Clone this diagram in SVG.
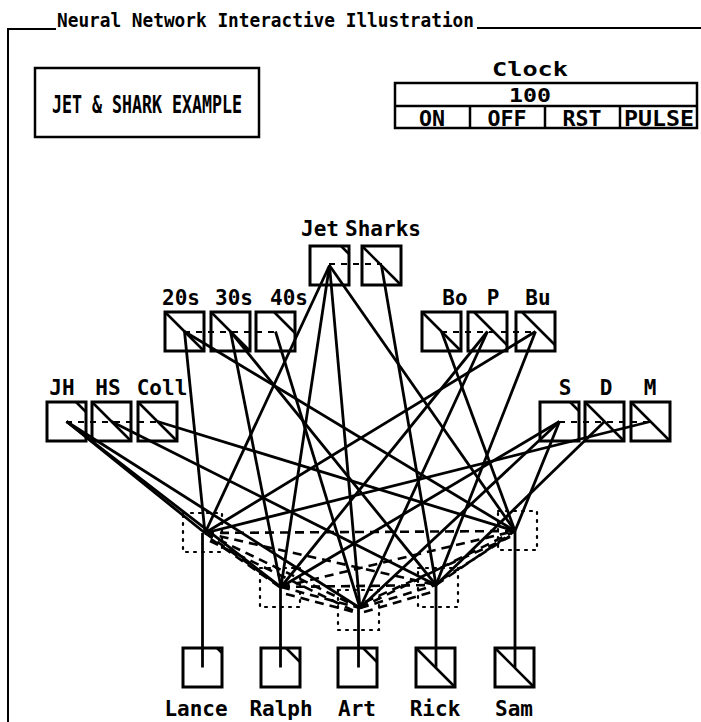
<svg xmlns="http://www.w3.org/2000/svg" width="701" height="722" viewBox="0 0 701 722">
<style>
.bg{fill:#fff}
.frame{stroke:#000;stroke-width:2;fill:none}
.box{fill:#fff;stroke:#000;stroke-width:3}
.act{stroke:#000;stroke-width:2.5;fill:none}
.pool{stroke:#000;stroke-width:2;stroke-dasharray:6 6;fill:none}
.hid{fill:none;stroke:#000;stroke-width:2.2;stroke-dasharray:2 6;stroke-linecap:round}
.exc{stroke:#000;stroke-width:2.8;fill:none}
.inh{stroke:#000;stroke-width:2.6;stroke-dasharray:9 6;fill:none}
.t{font-family:"DejaVu Sans Mono","Liberation Mono",monospace;font-weight:bold;fill:#000}
.lbl{font-family:"DejaVu Sans Mono","Liberation Mono",monospace;font-weight:bold;font-size:21px;fill:#000;text-anchor:middle}
.btn{stroke:#000;stroke-width:2.5;fill:none}
</style>
<rect class="bg" x="0" y="0" width="701" height="722"/>

<g id="frame">
<polyline class="frame" points="56,29 8,29 8,722"/>
<line class="frame" x1="477" y1="28" x2="701" y2="28"/>
<text class="t" x="57" y="27" font-size="19" textLength="417" lengthAdjust="spacingAndGlyphs">Neural Network Interactive Illustration</text>
</g>

<g id="title-box">
<rect x="35" y="68" width="224" height="69" fill="#fff" stroke="#000" stroke-width="2.5"/>
<text class="t" x="147" y="113" font-size="24" text-anchor="middle" textLength="190" lengthAdjust="spacingAndGlyphs">JET &amp; SHARK EXAMPLE</text>
</g>

<g id="clock">
<text class="t" x="530" y="76" font-size="19" text-anchor="middle" textLength="76" lengthAdjust="spacingAndGlyphs">Clock</text>
<rect class="btn" x="395" y="83" width="302" height="45"/>
<line class="btn" x1="395" y1="106" x2="697" y2="106"/>
<line class="btn" x1="470" y1="106" x2="470" y2="128"/>
<line class="btn" x1="545" y1="106" x2="545" y2="128"/>
<line class="btn" x1="620" y1="106" x2="620" y2="128"/>
<text class="t" x="530" y="102" font-size="19" text-anchor="middle" textLength="42" lengthAdjust="spacingAndGlyphs">100</text>
<text class="t" x="432" y="126" font-size="22" text-anchor="middle" textLength="26" lengthAdjust="spacingAndGlyphs">ON</text>
<text class="t" x="507" y="126" font-size="22" text-anchor="middle" textLength="39" lengthAdjust="spacingAndGlyphs">OFF</text>
<text class="t" x="582" y="126" font-size="22" text-anchor="middle" textLength="39" lengthAdjust="spacingAndGlyphs">RST</text>
<text class="t" x="659" y="126" font-size="22" text-anchor="middle" textLength="70" lengthAdjust="spacingAndGlyphs">PULSE</text>
</g>

<g id="node-jet"><rect class="box" x="310" y="246" width="39" height="39"/><line class="act" x1="341" y1="246" x2="349" y2="254"/><text class="lbl" x="320" y="236">Jet</text></g>
<g id="node-sharks"><rect class="box" x="362" y="246" width="39" height="39"/><line class="act" x1="362" y1="246" x2="401" y2="285"/><text class="lbl" x="383" y="236">Sharks</text></g>

<g id="node-20s"><rect class="box" x="165" y="312" width="39" height="39"/><line class="act" x1="165" y1="312" x2="204" y2="351"/><text class="lbl" x="181" y="305">20s</text></g>
<g id="node-30s"><rect class="box" x="211" y="312" width="39" height="39"/><line class="act" x1="211" y1="312" x2="250" y2="351"/><text class="lbl" x="234" y="305">30s</text></g>
<g id="node-40s"><rect class="box" x="256" y="312" width="39" height="39"/><line class="act" x1="274" y1="312" x2="295" y2="333"/><text class="lbl" x="289" y="305">40s</text></g>

<g id="node-bo"><rect class="box" x="422" y="312" width="39" height="39"/><line class="act" x1="422" y1="312" x2="461" y2="351"/><text class="lbl" x="455" y="305">Bo</text></g>
<g id="node-p"><rect class="box" x="468" y="312" width="39" height="39"/><line class="act" x1="474" y1="312" x2="507" y2="345"/><text class="lbl" x="493" y="305">P</text></g>
<g id="node-bu"><rect class="box" x="516" y="312" width="39" height="39"/><line class="act" x1="522" y1="312" x2="555" y2="345"/><text class="lbl" x="538" y="305">Bu</text></g>

<g id="node-jh"><rect class="box" x="47" y="402" width="39" height="39"/><line class="act" x1="76" y1="402" x2="86" y2="412"/><text class="lbl" x="62" y="395">JH</text></g>
<g id="node-hs"><rect class="box" x="92" y="402" width="39" height="39"/><line class="act" x1="92" y1="402" x2="131" y2="441"/><text class="lbl" x="108" y="395">HS</text></g>
<g id="node-coll"><rect class="box" x="138" y="402" width="39" height="39"/><line class="act" x1="138" y1="402" x2="177" y2="441"/><text class="lbl" x="162" y="395">Coll</text></g>

<g id="node-s"><rect class="box" x="540" y="402" width="39" height="39"/><line class="act" x1="570" y1="402" x2="579" y2="411"/><text class="lbl" x="565" y="395">S</text></g>
<g id="node-d"><rect class="box" x="585" y="402" width="39" height="39"/><line class="act" x1="585" y1="402" x2="624" y2="441"/><text class="lbl" x="606" y="395">D</text></g>
<g id="node-m"><rect class="box" x="631" y="402" width="39" height="39"/><line class="act" x1="631" y1="402" x2="670" y2="441"/><text class="lbl" x="650" y="395">M</text></g>

<g id="node-lance"><rect class="box" x="183" y="648" width="39" height="39"/><line class="act" x1="217" y1="648" x2="222" y2="653"/><text class="lbl" x="196" y="716">Lance</text></g>
<g id="node-ralph"><rect class="box" x="261" y="648" width="39" height="39"/><line class="act" x1="286" y1="648" x2="300" y2="662"/><text class="lbl" x="281" y="716">Ralph</text></g>
<g id="node-art"><rect class="box" x="338" y="648" width="39" height="39"/><line class="act" x1="363" y1="648" x2="377" y2="662"/><text class="lbl" x="357" y="716">Art</text></g>
<g id="node-rick"><rect class="box" x="416" y="648" width="39" height="39"/><line class="act" x1="416" y1="648" x2="455" y2="687"/><text class="lbl" x="435" y="716">Rick</text></g>
<g id="node-sam"><rect class="box" x="495" y="648" width="39" height="39"/><line class="act" x1="495" y1="648" x2="534" y2="687"/><text class="lbl" x="514" y="716">Sam</text></g>

<g id="hidden-lance"><rect class="hid" x="183" y="513" width="39" height="39"/></g>
<g id="hidden-ralph"><rect class="hid" x="260" y="568" width="40" height="39"/></g>
<g id="hidden-art"><rect class="hid" x="338" y="590" width="41" height="40"/></g>
<g id="hidden-rick"><rect class="hid" x="418" y="568" width="40" height="39"/></g>
<g id="hidden-sam"><rect class="hid" x="498" y="511" width="39" height="39"/></g>

<g id="connectors">
<line class="pool" x1="329" y1="264" x2="382" y2="264"/>
<line class="pool" x1="184" y1="332" x2="276" y2="332"/>
<line class="pool" x1="441" y1="332" x2="536" y2="332"/>
<line class="pool" x1="66" y1="422" x2="158" y2="422"/>
<line class="pool" x1="559" y1="422" x2="651" y2="422"/>

<line class="inh" x1="205" y1="533" x2="515" y2="531"/>
<line class="inh" x1="205" y1="533" x2="281" y2="587"/>
<line class="inh" x1="211" y1="539" x2="284" y2="590"/>
<line class="inh" x1="205" y1="533" x2="360" y2="608"/>
<line class="inh" x1="210" y1="541" x2="356" y2="612"/>
<line class="inh" x1="205" y1="533" x2="436" y2="585"/>
<line class="inh" x1="281" y1="587" x2="360" y2="608"/>
<line class="inh" x1="286" y1="594" x2="354" y2="612"/>
<line class="inh" x1="281" y1="587" x2="436" y2="585"/>
<line class="inh" x1="281" y1="587" x2="515" y2="531"/>
<line class="inh" x1="360" y1="608" x2="436" y2="585"/>
<line class="inh" x1="364" y1="612" x2="432" y2="592"/>
<line class="inh" x1="360" y1="608" x2="515" y2="531"/>
<line class="inh" x1="365" y1="602" x2="510" y2="537"/>
<line class="inh" x1="436" y1="585" x2="515" y2="531"/>
<line class="inh" x1="441" y1="580" x2="510" y2="536"/>

<line class="exc" x1="205" y1="533" x2="329.5" y2="265.5"/>
<line class="exc" x1="205" y1="533" x2="184.5" y2="331.5"/>
<line class="exc" x1="205" y1="533" x2="66.5" y2="421.5"/>
<line class="exc" x1="205" y1="533" x2="650.5" y2="421.5"/>
<line class="exc" x1="205" y1="533" x2="535.5" y2="331.5"/>
<line class="exc" x1="202.5" y1="533" x2="202.5" y2="667.5"/>

<line class="exc" x1="281" y1="587" x2="329.5" y2="265.5"/>
<line class="exc" x1="281" y1="587" x2="230.5" y2="331.5"/>
<line class="exc" x1="281" y1="587" x2="66.5" y2="421.5"/>
<line class="exc" x1="281" y1="587" x2="559.5" y2="421.5"/>
<line class="exc" x1="281" y1="587" x2="487.5" y2="331.5"/>
<line class="exc" x1="280.5" y1="587" x2="280.5" y2="667.5"/>

<line class="exc" x1="360" y1="608" x2="329.5" y2="265.5"/>
<line class="exc" x1="360" y1="608" x2="275.5" y2="331.5"/>
<line class="exc" x1="360" y1="608" x2="66.5" y2="421.5"/>
<line class="exc" x1="360" y1="608" x2="559.5" y2="421.5"/>
<line class="exc" x1="360" y1="608" x2="487.5" y2="331.5"/>
<line class="exc" x1="358.5" y1="608" x2="358.5" y2="667.5"/>

<line class="exc" x1="436" y1="585" x2="381.5" y2="265.5"/>
<line class="exc" x1="436" y1="585" x2="230.5" y2="331.5"/>
<line class="exc" x1="436" y1="585" x2="111.5" y2="421.5"/>
<line class="exc" x1="436" y1="585" x2="604.5" y2="421.5"/>
<line class="exc" x1="436" y1="585" x2="535.5" y2="331.5"/>
<line class="exc" x1="436" y1="585" x2="436" y2="667.5"/>

<line class="exc" x1="515" y1="531" x2="329.5" y2="265.5"/>
<line class="exc" x1="515" y1="531" x2="184.5" y2="331.5"/>
<line class="exc" x1="515" y1="531" x2="157.5" y2="421.5"/>
<line class="exc" x1="515" y1="531" x2="559.5" y2="421.5"/>
<line class="exc" x1="515" y1="531" x2="441.5" y2="331.5"/>
<line class="exc" x1="515" y1="531" x2="515" y2="667.5"/>
</g>
</svg>
